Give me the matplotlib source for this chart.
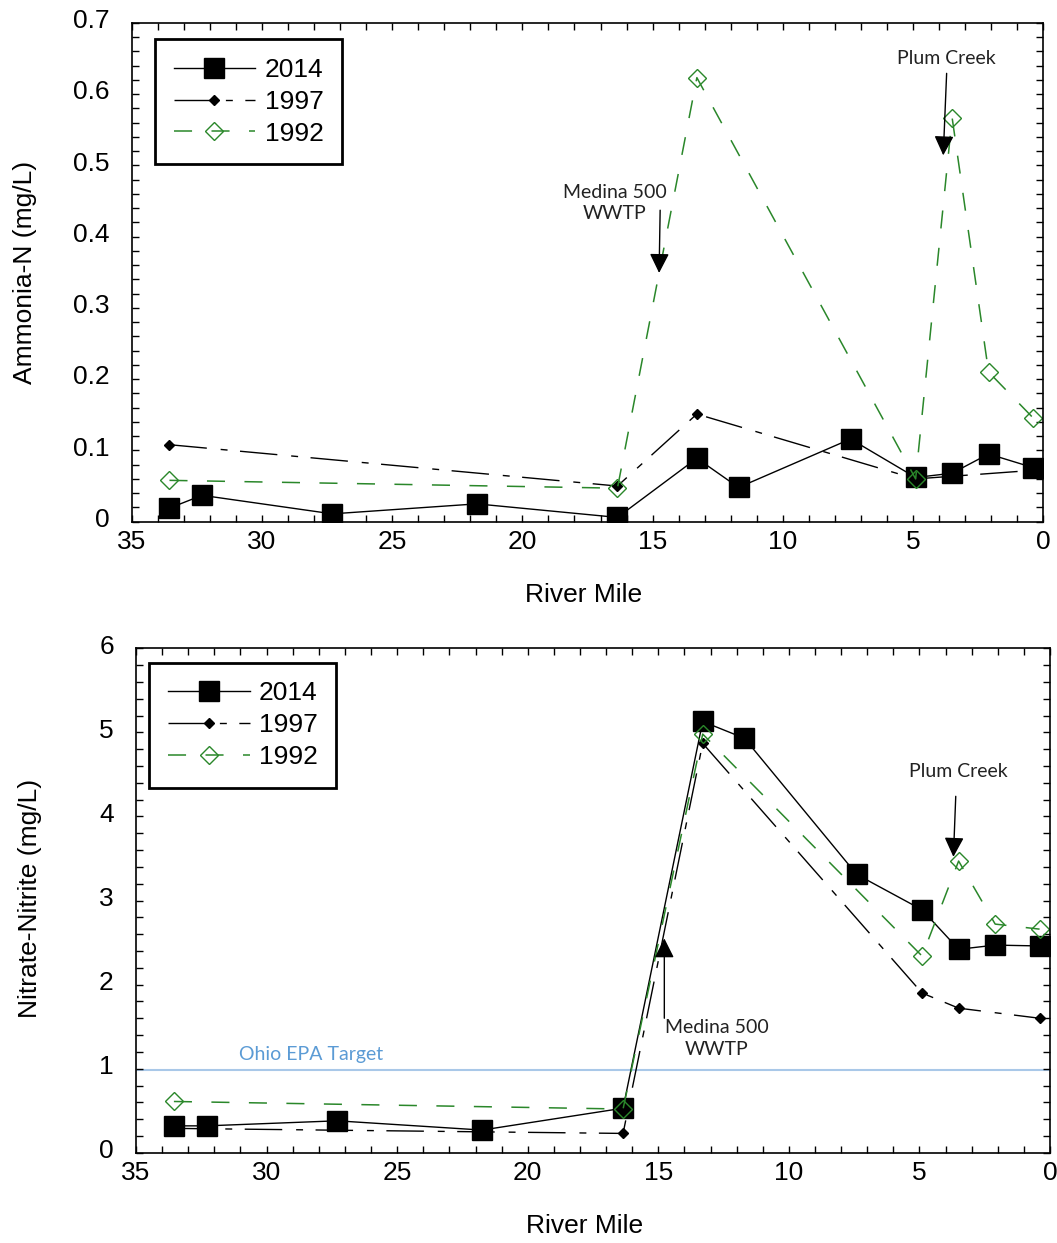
import matplotlib
matplotlib.use('Agg')
import matplotlib.pyplot as plt
from matplotlib.ticker import MultipleLocator, FuncFormatter
from matplotlib.transforms import ScaledTranslation

plt.rcParams['font.family'] = ['Liberation Sans', 'DejaVu Sans']
plt.rcParams['lines.scale_dashes'] = False

# --- data ---
series_names = ['2014', '1997', '1992']

miles_2014 = [33.55, 32.3, 27.3, 21.75, 16.35, 13.3, 11.7, 7.4, 4.9, 3.5, 2.1, 0.4]
nh3_2014 = [0.019, 0.037, 0.011, 0.025, 0.006, 0.089, 0.048, 0.116, 0.062, 0.068, 0.095, 0.076]
no3_2014 = [0.32, 0.32, 0.38, 0.27, 0.53, 5.13, 4.93, 3.31, 2.89, 2.42, 2.47, 2.46]

miles_1997_nh3 = [33.55, 16.35, 13.3, 4.9, 0.4]
nh3_1997 = [0.108, 0.050, 0.151, 0.060, 0.072]
miles_1997_no3 = [33.55, 16.35, 13.3, 4.9, 3.5, 0.4]
no3_1997 = [0.29, 0.23, 4.87, 1.90, 1.72, 1.60]

miles_1992 = [33.55, 16.35, 13.3, 4.9, 3.5, 2.1, 0.4]
nh3_1992 = [0.058, 0.047, 0.623, 0.060, 0.567, 0.210, 0.146]
no3_1992 = [0.61, 0.52, 4.98, 2.34, 3.47, 2.72, 2.66]

epa_target = 0.99

GREEN = '#2a872a'
NOTE_FONT = ['Lato', 'DejaVu Sans']

style_2014 = dict(color='black', lw=1.0, marker='s', ms=14, mfc='black', mec='black')
style_1997 = dict(color='black', lw=1.0, marker='D', ms=5.5, mfc='black', mec='black',
                  dashes=(27, 10, 5, 9))
style_1992 = dict(color=GREEN, lw=1.1, marker='D', ms=9, mfc='none', mec=GREEN,
                  mew=1.0, dashes=(13, 14))


def style_axes(ax, ymax, ymajor, yminor, fmt):
    ax.set_xlim(35, 0)
    ax.set_ylim(0, ymax)
    ax.xaxis.set_major_locator(MultipleLocator(5))
    ax.xaxis.set_minor_locator(MultipleLocator(1))
    ax.yaxis.set_major_locator(MultipleLocator(ymajor))
    ax.yaxis.set_minor_locator(MultipleLocator(yminor))
    ax.yaxis.set_major_formatter(FuncFormatter(fmt))
    ax.tick_params(which='both', direction='in', top=True, right=True,
                   length=5, width=1.0, labelsize=19)
    ax.tick_params(axis='y', pad=16)
    ax.tick_params(axis='x', pad=6)
    for s in ax.spines.values():
        s.set_linewidth(1.2)
    # y labels sit a little above their ticks in the original
    shift = ScaledTranslation(0, 3 / 72, ax.figure.dpi_scale_trans)
    for lab in ax.get_yticklabels():
        lab.set_transform(lab.get_transform() + shift)


def add_legend(ax, anchor):
    leg = ax.legend(loc='upper left', bbox_to_anchor=anchor, borderaxespad=0,
                    fontsize=19, handlelength=3.1, handletextpad=0.35,
                    labelspacing=0.3, borderpad=0.7, fancybox=False,
                    framealpha=1, edgecolor='black')
    leg.get_frame().set_linewidth(2.0)


def arrow(ax, start, tip):
    ax.annotate('', xy=tip, xytext=start,
                arrowprops=dict(arrowstyle='-|>,head_length=1.0,head_width=0.5',
                                mutation_scale=12, color='black', lw=1.0,
                                shrinkA=0, shrinkB=0))


fig = plt.figure(figsize=(10.57, 12.43), dpi=100)
ax1 = fig.add_axes([0.1246, 0.5803, 0.8624, 0.4014])
ax2 = fig.add_axes([0.1287, 0.0726, 0.8647, 0.4058])

# --- top: ammonia ---
ax1.plot(miles_2014, nh3_2014, label=series_names[0], **style_2014)
ax1.plot(miles_1997_nh3, nh3_1997, label=series_names[1], **style_1997)
ax1.plot(miles_1992, nh3_1992, label=series_names[2], **style_1992)
style_axes(ax1, 0.7, 0.1, 0.02, lambda v, _: '0' if abs(v) < 1e-9 else f'{v:.1f}')
ax1.set_xlabel('River Mile', fontsize=19)
ax1.set_ylabel('Ammonia-N (mg/L)', fontsize=19)
ax1.xaxis.set_label_coords(0.496, -0.123)
ax1.yaxis.set_label_coords(-0.104, 0.5)
add_legend(ax1, (0.0256, 0.9667))

ax1.text(16.45, 0.447, 'Medina 500\nWWTP', ha='center', va='center', fontsize=14,
         family=NOTE_FONT, color='#222222', linespacing=1.3)
arrow(ax1, (14.71, 0.437), (14.75, 0.349))
ax1.text(3.71, 0.650, 'Plum Creek', ha='center', va='center', fontsize=14,
         family=NOTE_FONT, color='#222222')
arrow(ax1, (3.71, 0.629), (3.84, 0.514))

# --- bottom: nitrate-nitrite ---
ax2.plot(miles_2014, no3_2014, label=series_names[0], **style_2014)
ax2.plot(miles_1997_no3, no3_1997, label=series_names[1], **style_1997)
ax2.plot(miles_1992, no3_1992, label=series_names[2], **style_1992)
ax2.axhline(epa_target, color='#a9c8e8', lw=1.5, zorder=1)
style_axes(ax2, 6, 1, 0.2, lambda v, _: f'{v:.0f}')
ax2.set_xlabel('River Mile', fontsize=19)
ax2.set_ylabel('Nitrate-Nitrite (mg/L)', fontsize=19)
ax2.xaxis.set_label_coords(0.491, -0.1215)
ax2.yaxis.set_label_coords(-0.103, 0.505)
add_legend(ax2, (0.0146, 0.9715))

ax2.text(28.3, 1.165, 'Ohio EPA Target', ha='center', va='center', fontsize=14,
         family=NOTE_FONT, color='#5b9bd5')
ax2.text(12.77, 1.36, 'Medina 500\nWWTP', ha='center', va='center', fontsize=14,
         family=NOTE_FONT, color='#222222', linespacing=1.3)
arrow(ax2, (14.77, 1.60), (14.77, 2.55))
ax2.text(3.51, 4.54, 'Plum Creek', ha='center', va='center', fontsize=14,
         family=NOTE_FONT, color='#222222')
arrow(ax2, (3.61, 4.24), (3.70, 3.52))

fig.savefig('out.png', dpi=100, facecolor='white')
